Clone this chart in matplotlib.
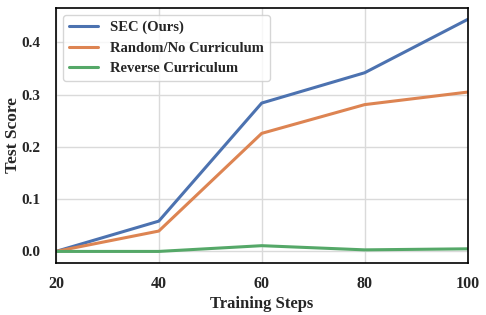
import matplotlib
matplotlib.use("Agg")
import matplotlib.pyplot as plt
import seaborn as sns

steps = [20, 40, 60, 80, 100]
sec_scores = [0.0, 0.058, 0.284, 0.342, 0.444]
random_scores = [0.0, 0.039, 0.226, 0.281, 0.305]
reverse_scores = [0.0, 0.0, 0.011, 0.003, 0.005]

sns.set_theme(style="whitegrid")
plt.rcParams['font.family'] = ['Liberation Serif', 'DejaVu Serif']
plt.rcParams['font.weight'] = 'bold'

fig, ax = plt.subplots(figsize=(4.86, 3.15), dpi=100)
colors = sns.color_palette("deep")
ax.plot(steps, sec_scores, color=colors[0], lw=2.2, label="SEC (Ours)")
ax.plot(steps, random_scores, color=colors[1], lw=2.2, label="Random/No Curriculum")
ax.plot(steps, reverse_scores, color=colors[2], lw=2.2, label="Reverse Curriculum")

ax.set_xlim(20, 100)
ax.set_xticks(steps)
ax.set_yticks([0.0, 0.1, 0.2, 0.3, 0.4])
ax.set_xlabel("Training Steps", fontsize=12, fontweight="bold", labelpad=3)
ax.set_ylabel("Test Score", fontsize=12.5, fontweight="bold")
ax.yaxis.set_label_coords(-0.085, 0.5)
ax.tick_params(axis="x", labelsize=11.5, pad=3)
ax.tick_params(axis="y", labelsize=11, pad=5)
for lab in ax.get_xticklabels() + ax.get_yticklabels():
    lab.set_fontweight("bold")
for sp in ax.spines.values():
    sp.set_color("black")
    sp.set_linewidth(1.2)
ax.grid(color="#dadada")

leg = ax.legend(loc="upper left", prop={"weight": "bold", "size": 10.5})

fig.subplots_adjust(left=0.115, right=0.962, top=0.975, bottom=0.165)
fig.savefig("out.png")
